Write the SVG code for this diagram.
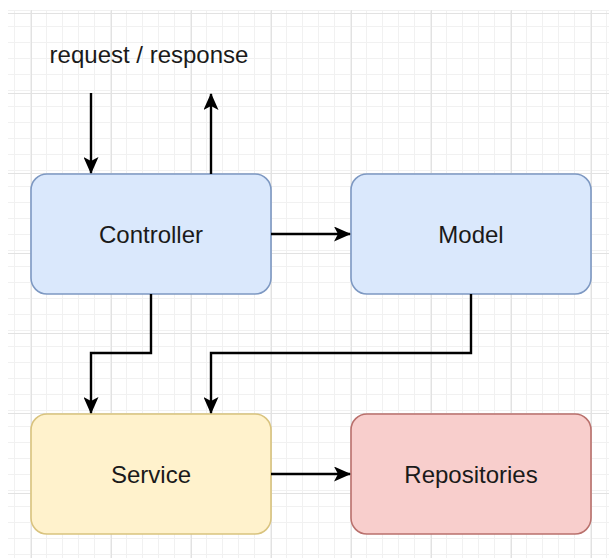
<svg xmlns="http://www.w3.org/2000/svg" width="609" height="558" viewBox="0 0 609 558">
  <defs>
    <pattern id="minor" x="31" y="13" width="16" height="16" patternUnits="userSpaceOnUse">
      <path d="M0 0.5H16M0.5 0V16" fill="none" stroke="#f1f1f1" stroke-width="1"/>
    </pattern>
    <pattern id="major" x="31" y="13" width="80" height="80" patternUnits="userSpaceOnUse">
      <rect width="80" height="80" fill="url(#minor)"/>
      <path d="M0 0.5H80M0.5 0V80" fill="none" stroke="#e2e2e2" stroke-width="1"/>
    </pattern>
    <marker id="arrow" viewBox="0 0 17 15" refX="16" refY="7.5" markerWidth="17" markerHeight="15" markerUnits="userSpaceOnUse" orient="auto">
      <path d="M0 0L17 7.5L0 15L4 7.5Z" fill="#000"/>
    </marker>
    <style>
      .node rect { stroke-width: 1.6; }
      .blue rect { fill: #dae8fc; stroke: #7d98c2; }
      .yellow rect { fill: #fff2cc; stroke: #d9c37e; }
      .red rect { fill: #f8cecc; stroke: #b9706c; }
      text { font-family: "Liberation Sans", Arial, sans-serif; font-size: 24px; fill: #1a1a1a; text-anchor: middle; }
      .edge { fill: none; stroke: #000; stroke-width: 2.4; marker-end: url(#arrow); }
    </style>
  </defs>

  <rect width="609" height="558" fill="#fff"/>
  <rect x="8" y="10" width="601" height="548" fill="url(#major)"/>

  <text x="149" y="63">request / response</text>

  <g id="controller" class="node blue">
    <rect x="31" y="174" width="240" height="120" rx="16"/>
    <text x="151" y="243">Controller</text>
  </g>
  <g id="model" class="node blue">
    <rect x="351" y="174" width="240" height="120" rx="16"/>
    <text x="471" y="243">Model</text>
  </g>
  <g id="service" class="node yellow">
    <rect x="31" y="414" width="240" height="120" rx="16"/>
    <text x="151" y="483">Service</text>
  </g>
  <g id="repositories" class="node red">
    <rect x="351" y="414" width="240" height="120" rx="16"/>
    <text x="471" y="483">Repositories</text>
  </g>

  <g id="connectors">
    <path class="edge" d="M91 93V173"/>
    <path class="edge" d="M211 174V94"/>
    <path class="edge" d="M271 234H350"/>
    <path class="edge" d="M151 294V353H91V413"/>
    <path class="edge" d="M471 294V353H211V413"/>
    <path class="edge" d="M271 474H350"/>
  </g>
</svg>
